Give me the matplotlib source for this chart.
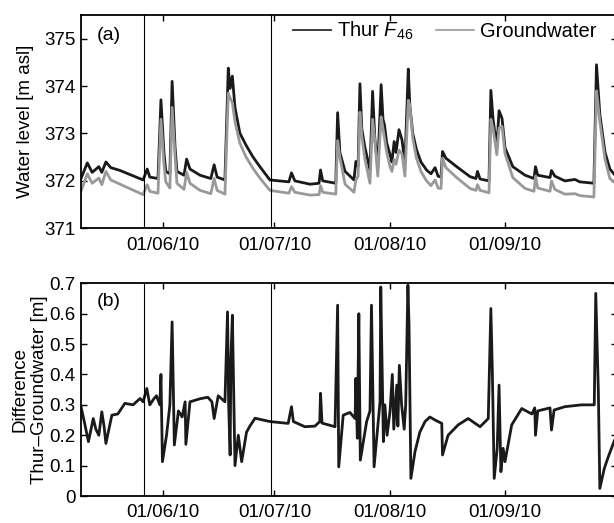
import numpy as np
import pandas as pd
import matplotlib
matplotlib.use("Agg")
import matplotlib.pyplot as plt
import matplotlib.dates as mdates

plt.rcParams['font.family'] = ['Liberation Sans', 'DejaVu Sans']
plt.rcParams['mathtext.fontset'] = 'custom'
plt.rcParams['mathtext.rm'] = 'Liberation Sans'
plt.rcParams['mathtext.it'] = 'Liberation Sans:italic'

START = pd.Timestamp("2010-05-10")
END = pd.Timestamp("2010-10-01")

# days since 10 May 2010
level_days = [0.0, 1.7, 3.0, 4.8, 5.6, 6.7, 8.0, 10.5, 16.7, 17.8, 18.5, 20.7, 21.5, 22.3, 22.8,
              23.9, 24.5, 25.3, 25.8, 27.7, 28.4, 29.3, 32.0, 34.9, 35.8, 36.6, 38.7, 39.6, 40.1,
              40.7, 41.4, 42.7, 44.4, 46.2, 48.1, 50.8, 55.9, 56.6, 57.5, 61.6, 64.0, 64.4, 65.0,
              68.5, 69.0, 69.6, 71.0, 73.4, 73.9, 74.5, 75.0, 75.5, 76.3, 77.7, 78.4, 79.0, 79.8,
              80.7, 81.2, 81.6, 82.2, 83.1, 83.6, 84.2, 84.7, 85.5, 86.3, 87.1, 88.0, 88.4, 89.2,
              90.2, 91.4, 92.9, 94.1, 95.2, 96.0, 96.8, 97.2, 98.1, 101.0, 104.6, 106.2, 106.6,
              107.3, 109.7, 110.2, 110.8, 111.8, 112.4, 113.2, 114.0, 116.1, 119.4, 121.8, 122.2,
              122.8, 126.1, 126.5, 127.4, 130.1, 132.8, 134.1, 137.9, 138.6, 139.5, 140.9, 142.2,
              143.8]
thur = [372.05, 372.38, 372.18, 372.30, 372.18, 372.40, 372.28, 372.22, 372.02, 372.25, 372.08,
        372.05, 373.71, 372.60, 372.20, 372.15, 374.10, 372.70, 372.20, 372.12, 372.46, 372.25,
        372.12, 372.05, 372.34, 372.08, 372.02, 374.38, 373.95, 374.21, 373.55, 373.01, 372.75,
        372.51, 372.30, 372.02, 371.98, 372.17, 372.00, 371.93, 371.95, 372.23, 372.00, 371.95,
        373.44, 372.60, 372.20, 372.02, 372.41, 372.30, 374.05, 373.10, 372.72, 372.23, 373.89,
        372.90, 372.30, 374.03, 373.30, 373.18, 372.80, 372.55, 372.40, 372.83, 372.60, 373.08,
        372.87, 372.38, 374.36, 373.60, 373.00, 372.66, 372.40, 372.23, 372.15, 372.28, 372.10,
        372.08, 372.62, 372.48, 372.30, 372.09, 372.05, 372.20, 372.04, 372.00, 373.91, 373.30,
        372.70, 373.48, 373.32, 372.70, 372.30, 372.12, 372.05, 372.30, 372.12, 372.07, 372.22,
        372.10, 372.00, 372.03, 371.98, 371.95, 374.45, 373.40, 372.60, 372.25, 372.10]
groundwater = [371.78, 372.15, 371.95, 372.06, 371.92, 372.20, 372.02, 371.93, 371.71, 371.92,
               371.78, 371.74, 373.30, 372.35, 371.98, 371.85, 373.55, 372.50, 371.95, 371.82,
               372.18, 371.95, 371.80, 371.73, 372.05, 371.80, 371.72, 373.85, 373.75, 373.65,
               373.25, 372.80, 372.50, 372.27, 372.06, 371.80, 371.74, 371.88, 371.76, 371.70,
               371.71, 371.90, 371.76, 371.72, 372.85, 372.50, 371.93, 371.76, 372.02, 372.10,
               373.45, 372.95, 372.47, 371.95, 373.30, 372.85, 372.10, 373.35, 373.10, 372.90,
               372.60, 372.30, 372.20, 372.45, 372.35, 372.65, 372.57, 372.10, 373.70, 373.60,
               372.90, 372.48, 372.20, 372.00, 371.90, 372.02, 371.85, 371.84, 372.48, 372.28,
               372.07, 371.84, 371.80, 371.92, 371.80, 371.75, 373.30, 373.10, 372.55, 373.12,
               373.15, 372.58, 372.07, 371.84, 371.78, 372.10, 371.85, 371.78, 372.00, 371.82,
               371.72, 371.73, 371.69, 371.66, 373.90, 373.25, 372.45, 372.05, 371.95]

# days since 10 May 2010
diff_days = [0.0, 0.8, 2.0, 3.3, 4.0, 4.8, 5.6, 6.2, 6.7, 8.3, 9.9, 11.8, 14.0, 15.9, 16.7, 17.7,
             18.5, 19.6, 20.3, 21.2, 21.5, 21.9, 23.0, 23.9, 24.5, 25.1, 26.2, 27.2, 28.0, 28.2,
             29.3, 32.0, 34.1, 35.2, 35.8, 36.9, 38.7, 39.4, 39.7, 40.1, 40.3, 40.7, 41.4, 42.3,
             43.2, 44.5, 45.4, 46.8, 50.8, 55.7, 56.6, 57.1, 60.2, 62.9, 64.2, 64.4, 64.8, 68.3,
             69.0, 69.3, 70.5, 72.3, 73.7, 73.9, 74.3, 74.7, 75.1, 76.8, 77.7, 78.1, 78.8, 79.8,
             80.4, 80.6, 81.3, 81.7, 82.3, 83.1, 83.7, 84.1, 84.9, 85.2, 85.6, 86.2, 86.9, 87.3,
             87.9, 88.2, 88.7, 89.8, 91.1, 92.5, 93.8, 95.2, 97.0, 97.2, 98.7, 101.4, 104.1, 105.9,
             107.3, 109.5, 110.2, 110.6, 111.1, 111.9, 112.4, 112.9, 113.5, 114.0, 115.8, 118.5,
             121.2, 122.0, 122.2, 122.8, 126.1, 126.5, 127.2, 130.1, 134.6, 138.0, 138.4, 139.1,
             139.5, 140.7, 141.8, 143.3, 144.1]
difference = [0.294, 0.25, 0.179, 0.255, 0.22, 0.20, 0.277, 0.23, 0.173, 0.266, 0.27, 0.305, 0.30,
              0.321, 0.31, 0.354, 0.30, 0.32, 0.33, 0.30, 0.40, 0.113, 0.20, 0.30, 0.573, 0.168,
              0.28, 0.26, 0.31, 0.17, 0.31, 0.32, 0.325, 0.31, 0.255, 0.33, 0.31, 0.606, 0.30,
              0.135, 0.45, 0.595, 0.10, 0.20, 0.113, 0.21, 0.23, 0.256, 0.245, 0.239, 0.294, 0.245,
              0.228, 0.23, 0.245, 0.338, 0.24, 0.228, 0.628, 0.096, 0.266, 0.275, 0.255, 0.387,
              0.19, 0.60, 0.118, 0.245, 0.28, 0.628, 0.096, 0.23, 0.31, 0.688, 0.179, 0.30, 0.20,
              0.28, 0.40, 0.22, 0.365, 0.23, 0.43, 0.30, 0.22, 0.30, 0.694, 0.56, 0.058, 0.146,
              0.21, 0.245, 0.26, 0.25, 0.239, 0.135, 0.20, 0.234, 0.255, 0.24, 0.228, 0.255, 0.617,
              0.41, 0.058, 0.157, 0.365, 0.08, 0.157, 0.113, 0.234, 0.288, 0.27, 0.29, 0.20, 0.28,
              0.29, 0.217, 0.283, 0.294, 0.30, 0.30, 0.667, 0.343, 0.025, 0.091, 0.13, 0.179, 0.2]

event_lines = ["2010-05-27", "2010-06-30"]
month_ticks = ["2010-06-01", "2010-07-01", "2010-08-01", "2010-09-01"]
level_ticks = [371, 372, 373, 374, 375]
diff_ticks = [0, 0.1, 0.2, 0.3, 0.4, 0.5, 0.6, 0.7]
diff_ticklabels = ["0", "0.1", "0.2", "0.3", "0.4", "0.5", "0.6", "0.7"]


def to_dates(days):
    return (START + pd.to_timedelta(np.asarray(days), unit="D")).to_numpy()


def style_axis(ax):
    ax.set_xlim(START, END)
    ax.set_xticks(pd.to_datetime(month_ticks).to_numpy())
    ax.xaxis.set_major_formatter(mdates.DateFormatter("%d/%m/%y"))
    ax.tick_params(direction="in", top=True, right=True, length=4.5, width=1,
                   labelsize=13.5)
    ax.tick_params(axis="x", pad=6)
    ax.tick_params(axis="y", pad=4)
    for s in ax.spines.values():
        s.set_linewidth(1.3)
    for d in event_lines:
        ax.axvline(pd.Timestamp(d), color="black", lw=0.8)


fig = plt.figure(figsize=(6.14, 5.23), dpi=100)
ax1 = fig.add_axes([0.1319, 0.5635, 0.8723, 0.4078])
ax2 = fig.add_axes([0.1319, 0.0516, 0.8723, 0.4067])

ax1.plot(to_dates(level_days), thur, color="#1a1a1a", lw=2.0, label=r"Thur $F_{46}$")
ax1.plot(to_dates(level_days), groundwater, color="#999999", lw=2.0, label="Groundwater")
ax1.set_ylim(371, 375.5)
ax1.set_yticks(level_ticks)
style_axis(ax1)
ax1.set_ylabel("Water level [m asl]", fontsize=13.5)
ax1.yaxis.set_label_coords(-0.088, 0.5)
ax1.text(0.03, 0.906, "(a)", transform=ax1.transAxes, fontsize=14, va="center", ha="left")
leg = ax1.legend(loc="center left", bbox_to_anchor=(0.396, 0.925), ncol=2, frameon=False,
                 fontsize=14.5, handlelength=1.9, handletextpad=0.3, columnspacing=1.1,
                 borderpad=0, borderaxespad=0)
for h in leg.get_lines():
    h.set_linewidth(1.2)

ax2.plot(to_dates(diff_days), difference, color="#1a1a1a", lw=2.0)
ax2.set_ylim(0, 0.7)
ax2.set_yticks(diff_ticks)
ax2.set_yticklabels(diff_ticklabels)
style_axis(ax2)
ax2.set_ylabel("Difference\nThur\u2013Groundwater [m]", fontsize=13.5, linespacing=1.2)
ax2.yaxis.set_label_coords(-0.062, 0.5)
ax2.text(0.03, 0.913, "(b)", transform=ax2.transAxes, fontsize=14, va="center", ha="left")

fig.savefig("out.png", dpi=100)
